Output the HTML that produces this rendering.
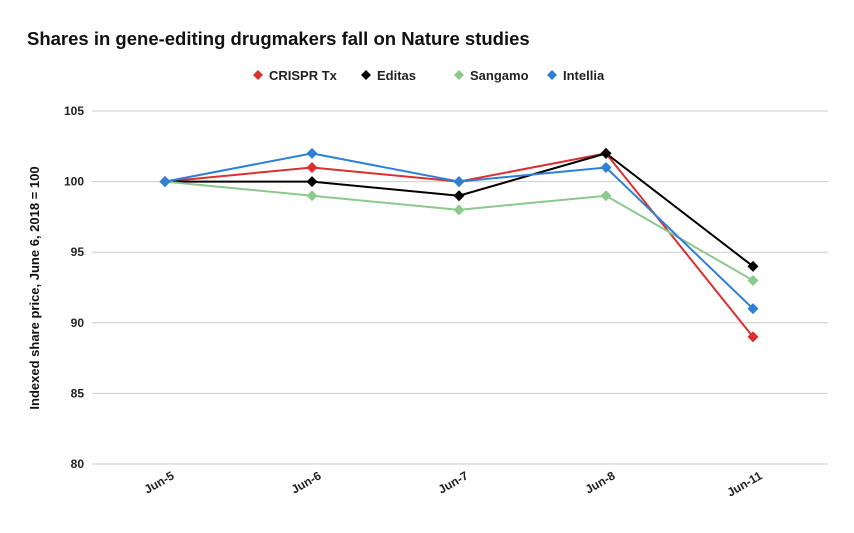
<!DOCTYPE html>
<html><head><meta charset="utf-8"><style>
body{margin:0;background:#fff;font-family:"Liberation Sans",Arial,sans-serif}
svg text{font-family:"Liberation Sans",Arial,sans-serif}
</style></head><body>
<svg id="chart" width="854" height="528" xmlns="http://www.w3.org/2000/svg">
<rect width="854" height="528" fill="#fff"/>
<text x="27" y="45" font-size="18.5" font-weight="bold" fill="#111">Shares in gene-editing drugmakers fall on Nature studies</text>
<g id="legend"></g>
<g id="grid"></g>
<g id="series"></g>
<text transform="translate(39,288) rotate(-90)" text-anchor="middle" font-size="13" font-weight="bold" fill="#111">Indexed share price, June 6, 2018 = 100</text>
</svg>
<script>
const categories = ["Jun-5","Jun-6","Jun-7","Jun-8","Jun-11"];
const yTicks = [80,85,90,95,100,105];
const seriesNames = ["CRISPR Tx","Editas","Sangamo","Intellia"];
const seriesColors = ["#d93030","#000000","#8cc98c","#2e7fd6"];
const crisprValues = [100,101,100,102,89];
const editasValues = [100,100,99,102,94];
const sangamoValues = [100,99,98,99,93];
const intelliaValues = [100,102,100,101,91];
const allValues = [crisprValues,editasValues,sangamoValues,intelliaValues];

const NS="http://www.w3.org/2000/svg";
const plotLeft=92,plotRight=828,plotTop=111,plotBottom=464,yMin=80,yMax=105;
const yScale=v=>plotBottom-(v-yMin)/(yMax-yMin)*(plotBottom-plotTop);
const xStep=(753-165)/(categories.length-1);
const xScale=i=>165+i*xStep;
function mk(tag,attrs,parent){const e=document.createElementNS(NS,tag);for(const k in attrs)e.setAttribute(k,attrs[k]);parent.appendChild(e);return e;}
const grid=document.getElementById('grid');
yTicks.forEach(t=>{
  const l=mk('line',{x1:plotLeft,x2:plotRight,y1:yScale(t),y2:yScale(t),stroke:'#ccc','stroke-width':1},grid);
  
  
  const tx=mk('text',{x:84,y:yScale(t)+4,'text-anchor':'end','font-size':12,'font-weight':'bold',fill:'#222'},grid);
  tx.textContent=t;
  
  
});
categories.forEach((c,i)=>{
  const tx=mk('text',{transform:`translate(${xScale(i)+10},478) rotate(-30)`,'text-anchor':'end','font-size':12,'font-weight':'bold',fill:'#222'},grid);
  tx.textContent=c;
  
  
});
const sg=document.getElementById('series');
allValues.forEach((vals,s)=>{
  const g=mk('g',{},sg);
  
  
  const p=mk('polyline',{points:vals.map((v,i)=>xScale(i)+','+yScale(v)).join(' '),fill:'none',stroke:seriesColors[s],'stroke-width':2},g);
  
  
  vals.forEach((v,i)=>{
    const cx=xScale(i),cy=yScale(v),r=5.5;
    const d=mk('polygon',{points:`${cx},${cy-r} ${cx+r},${cy} ${cx},${cy+r} ${cx-r},${cy}`,fill:seriesColors[s]},g);
    
    
  });
});
const lg=document.getElementById('legend');
const legendX=[258,366,459,552];
seriesNames.forEach((n,s)=>{
  const g=mk('g',{},lg);
  
  
  const cx=legendX[s],cy=75,r=5;
  mk('polygon',{points:`${cx},${cy-r} ${cx+r},${cy} ${cx},${cy+r} ${cx-r},${cy}`,fill:seriesColors[s]},g);
  const t=mk('text',{x:cx+11,y:cy+5,'font-size':13,'font-weight':'bold',fill:'#222'},g);
  t.textContent=n;
});
</script>
</body></html>
